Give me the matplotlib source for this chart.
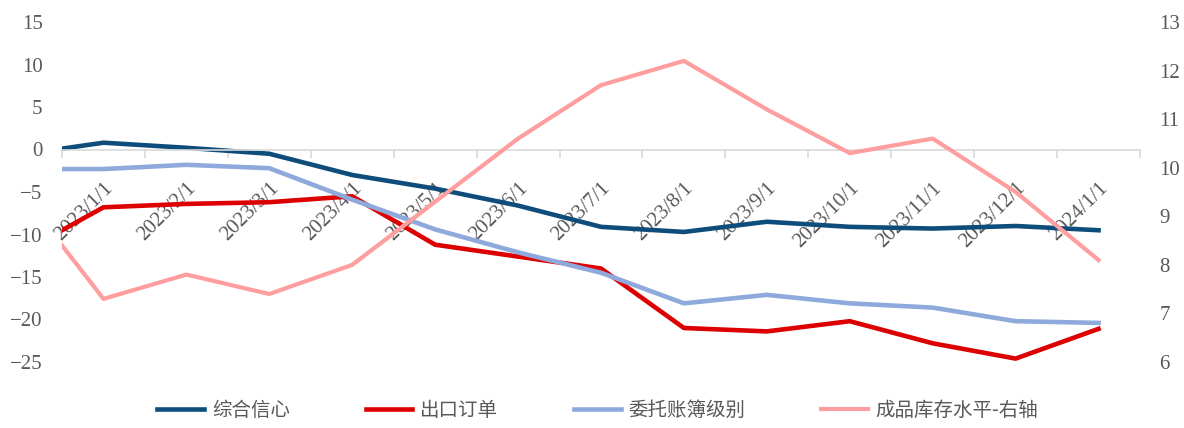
import matplotlib.pyplot as plt
import numpy as np

# monthly labels on the category axis
months = ['2023/1/1', '2023/2/1', '2023/3/1', '2023/4/1', '2023/5/1', '2023/6/1',
          '2023/7/1', '2023/8/1', '2023/9/1', '2023/10/1', '2023/11/1', '2023/12/1',
          '2024/1/1']

# series values (first value sits on the left edge of the axis)
composite = [0.1, 0.8, 0.2, -0.5, -3.0, -4.6, -6.6, -9.1, -9.7, -8.5, -9.1, -9.3, -9.0, -9.5]
export_orders = [-9.5, -6.8, -6.4, -6.2, -5.5, -11.2, -12.6, -14.0, -21.0, -21.4, -20.2, -22.8, -24.6, -21.1]
order_books = [-2.3, -2.3, -1.8, -2.2, -5.9, -9.4, -12.1, -14.5, -18.1, -17.1, -18.1, -18.6, -20.2, -20.4]
stocks = [8.4, 7.3, 7.8, 7.4, 8.0, 9.3, 10.6, 11.7, 12.2, 11.2, 10.3, 10.6, 9.5, 8.1]

labels = ['综合信心', '出口订单', '委托账簿级别', '成品库存水平-右轴']
colors = ['#0E4D7B', '#DC0000', '#8EA9DB', '#FF9E9E']

x = np.concatenate([[-0.5], np.arange(len(months))])

num_font = 'Liberation Serif'
gray = '#595959'

fig = plt.figure(figsize=(11.84, 4.28), dpi=100)
ax = fig.add_axes([62 / 1184, 1 - 362 / 428, (1140 - 62) / 1184, 340 / 428])
ax2 = ax.twinx()

l1, = ax.plot(x, composite, color=colors[0], lw=3.3, solid_joinstyle='round')
l2, = ax.plot(x, export_orders, color=colors[1], lw=3.3, solid_joinstyle='round')
l3, = ax.plot(x, order_books, color=colors[2], lw=3.3, solid_joinstyle='round')
l4, = ax2.plot(x, stocks, color=colors[3], lw=3.0, solid_joinstyle='round')

ax.set_xlim(-0.5, len(months) - 0.5)
ax.set_ylim(-25, 15)
ax.set_yticks(np.arange(-25, 16, 5))
ax2.set_ylim(6, 13)
ax2.set_yticks(np.arange(6, 14, 1))

# category axis drawn along y = 0
ax.spines['bottom'].set_position(('data', 0))
ax.spines['bottom'].set_color('#D9D9D9')
ax.spines['bottom'].set_linewidth(1.2)
for a in (ax, ax2):
    for s in ('top', 'left', 'right'):
        a.spines[s].set_visible(False)
ax2.spines['bottom'].set_visible(False)

ax.set_xticks(np.arange(len(months)))
ax.set_xticklabels(months, rotation=45, ha='right', va='top', rotation_mode='anchor',
                   fontfamily=num_font, fontsize=15, color=gray)
ax.set_xticks(np.arange(-0.5, len(months)), minor=True)
ax.tick_params(axis='x', which='major', length=0, pad=21)
ax.tick_params(axis='x', which='minor', length=6, width=1.2, color='#D9D9D9', direction='out')

for a in (ax, ax2):
    a.tick_params(axis='y', length=0, pad=14, labelsize=15, labelcolor=gray)
    for t in a.get_yticklabels():
        t.set_fontfamily(num_font)

leg = fig.legend([l1, l2, l3, l4], labels, loc='center', ncol=4, frameon=False,
                 handlelength=2.4, handletextpad=0.4, columnspacing=3.9,
                 prop={'family': 'Noto Sans CJK SC', 'size': 14})
leg.set_bbox_to_anchor((0.505, 1 - 410 / 428))
for t in leg.get_texts():
    t.set_color(gray)

fig.savefig('out.png', dpi=100)
